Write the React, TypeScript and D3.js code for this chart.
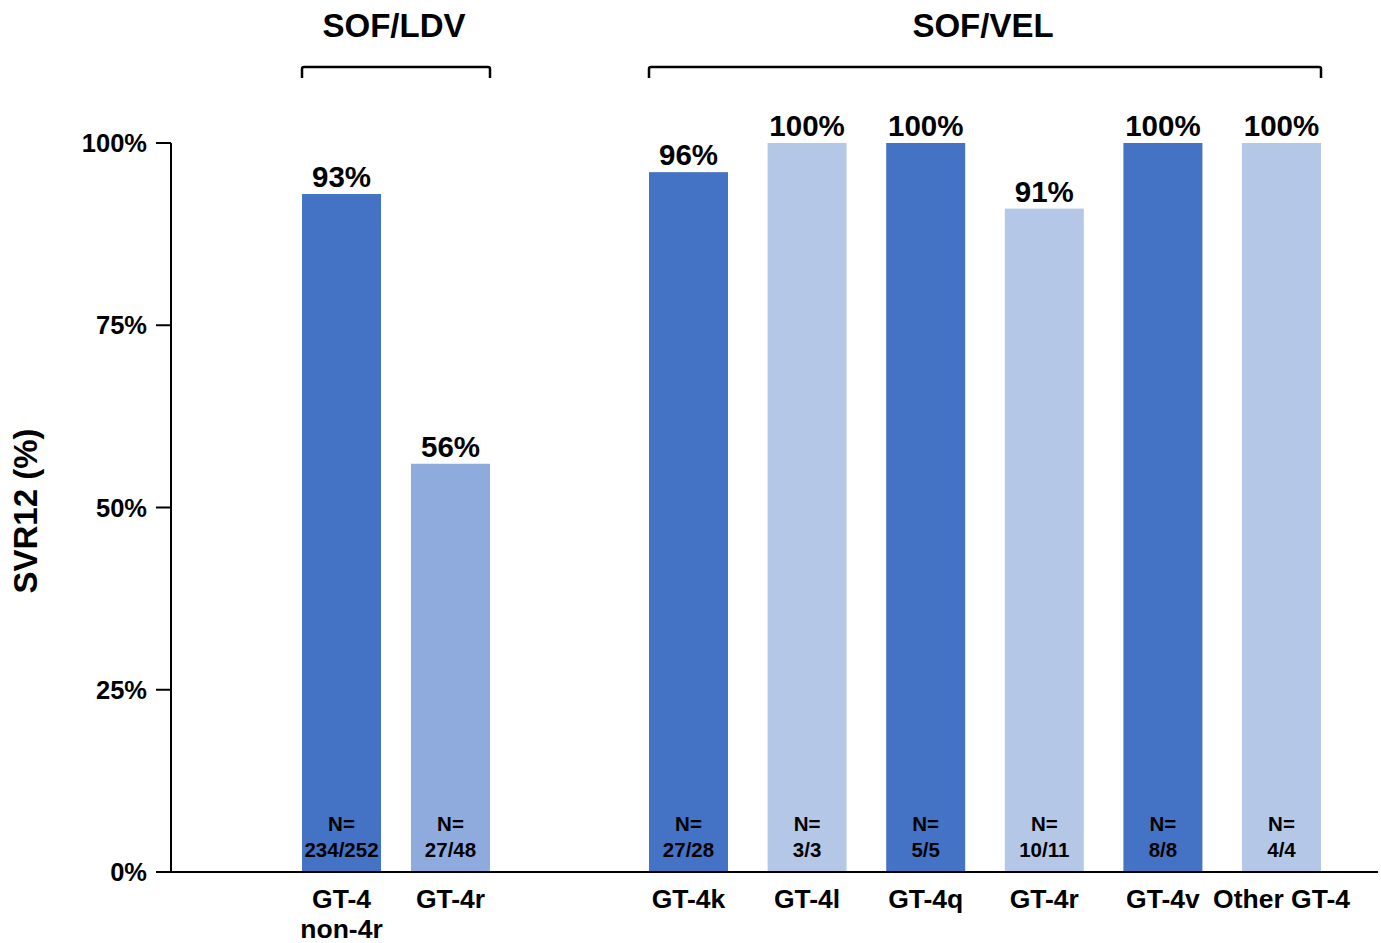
import { useEffect, useRef } from 'react'
import * as d3 from 'd3'

const groups = ['SOF/LDV', 'SOF/VEL']
const categories = ['GT-4\nnon-4r', 'GT-4r', 'GT-4k', 'GT-4l', 'GT-4q', 'GT-4r', 'GT-4v', 'Other GT-4']
const groupOf = [0, 0, 1, 1, 1, 1, 1, 1]
const svr = [93, 56, 96, 100, 100, 91, 100, 100]
const nLabels = ['234/252', '27/48', '27/28', '3/3', '5/5', '10/11', '8/8', '4/4']
const shade = ['dark', 'mid', 'dark', 'light', 'dark', 'light', 'dark', 'light']
const yTicks = [0, 25, 50, 75, 100]

const colors: Record<string, string> = { dark: '#4472C4', mid: '#8FAADC', light: '#B4C7E7' }
const font = '"Liberation Sans", Arial, Helvetica, sans-serif'

export default function App() {
  const ref = useRef<SVGSVGElement>(null)

  useEffect(() => {
    document.body.style.margin = '0'
    const width = 1381, height = 943
    const svg = d3.select(ref.current)
    svg.selectAll('*').remove()
    svg.attr('width', width).attr('height', height)
      .style('font-family', font).style('display', 'block')

    const y = d3.scaleLinear().domain([0, 100]).range([872, 143])
    const axisX = 171

    // one band scale per group, the gap between them is just layout
    const groupRanges = [[302, 490], [649, 1321]]
    const groupPad = [0.275, 0.334]
    const bandScales = groups.map((g, gi) => d3.scaleBand<number>()
      .domain(categories.map((_, i) => i).filter(i => groupOf[i] === gi))
      .range(groupRanges[gi] as [number, number])
      .paddingInner(groupPad[gi]))
    const xOf = (i: number) => bandScales[groupOf[i]](i) as number
    const bw = (i: number) => bandScales[groupOf[i]].bandwidth()
    const mid = (i: number) => xOf(i) + bw(i) / 2

    // bars
    svg.append('g').selectAll('rect')
      .data(svr)
      .enter()
      .append('rect')
      .attr('x', (d, i) => xOf(i))
      .attr('y', d => y(d))
      .attr('width', (d, i) => bw(i))
      .attr('height', d => y(0) - y(d))
      .attr('fill', (d, i) => colors[shade[i]])

    // value labels
    svg.append('g').selectAll('text')
      .data(svr)
      .enter()
      .append('text')
      .attr('x', (d, i) => mid(i))
      .attr('y', d => y(d) - 7)
      .attr('text-anchor', 'middle')
      .attr('font-size', 29.5)
      .attr('font-weight', 'bold')
      .text(d => d + '%')

    // N= labels inside bars
    const nG = svg.append('g')
    nLabels.forEach((n, i) => {
      const t = nG.append('text')
        .attr('x', mid(i))
        .attr('y', 831)
        .attr('text-anchor', 'middle')
        .attr('font-size', 20.5)
        .attr('font-weight', 'bold')
      t.append('tspan').attr('x', mid(i)).text('N=')
      t.append('tspan').attr('x', mid(i)).attr('dy', 26).text(n)
    })

    // category labels
    const cG = svg.append('g')
    categories.forEach((c, i) => {
      const t = cG.append('text')
        .attr('x', mid(i))
        .attr('y', 908)
        .attr('text-anchor', 'middle')
        .attr('font-size', 26.5)
        .attr('font-weight', 'bold')
      c.split('\n').forEach((line, li) => {
        t.append('tspan').attr('x', mid(i)).attr('dy', li ? 30 : 0).text(line)
      })
    })

    // axes
    svg.append('line')
      .attr('x1', axisX).attr('x2', axisX)
      .attr('y1', y(100)).attr('y2', y(0))
      .attr('stroke', '#000').attr('stroke-width', 2)
    svg.append('line')
      .attr('x1', axisX - 15).attr('x2', 1378)
      .attr('y1', y(0)).attr('y2', y(0))
      .attr('stroke', '#000').attr('stroke-width', 2)

    const tG = svg.append('g')
    yTicks.forEach(t => {
      tG.append('line')
        .attr('x1', axisX - 15).attr('x2', axisX)
        .attr('y1', y(t)).attr('y2', y(t))
        .attr('stroke', '#000').attr('stroke-width', 2)
      tG.append('text')
        .attr('x', axisX - 24)
        .attr('y', y(t) + 9)
        .attr('text-anchor', 'end')
        .attr('font-size', 25.5)
        .attr('font-weight', 'bold')
        .text(t + '%')
    })

    svg.append('text')
      .attr('transform', 'translate(37,511) rotate(-90)')
      .attr('text-anchor', 'middle')
      .attr('font-size', 33)
      .attr('font-weight', 'bold')
      .text('SVR12 (%)')

    // group brackets and titles
    groups.forEach((g, gi) => {
      const [a, b] = groupRanges[gi]
      svg.append('path')
        .attr('d', `M${a},78 L${a},69 Q${a},67 ${a + 2},67 L${b - 2},67 Q${b},67 ${b},69 L${b},78`)
        .attr('fill', 'none')
        .attr('stroke', '#000')
        .attr('stroke-width', 2.5)
      svg.append('text')
        .attr('x', (a + b) / 2 - 2)
        .attr('y', 37)
        .attr('text-anchor', 'middle')
        .attr('font-size', 33)
        .attr('font-weight', 'bold')
        .text(g)
    })
  }, [])

  return <svg ref={ref} />
}
